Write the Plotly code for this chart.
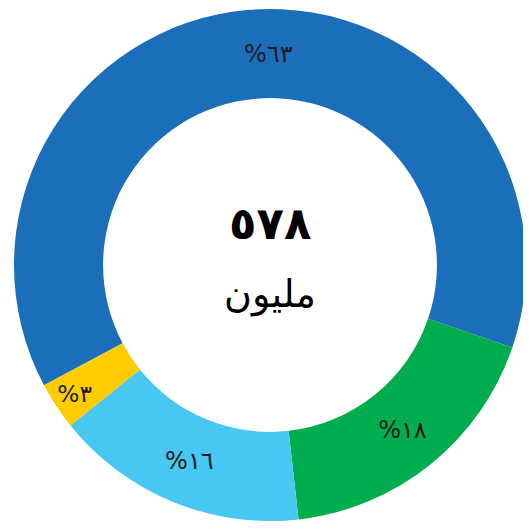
import plotly.graph_objects as go

labels = ["A", "B", "C", "D"]
values = [63, 18, 16, 3]
text_labels = ["\u00a0\u00a0\u00a0\u00a0%٦٣", "%١٨", "%١٦", "%٣"]
colors = ["#1b6fba", "#00ad4e", "#47c7f2", "#ffcc00"]
center_value = "٥٧٨"
center_unit = "ملیون"

fig = go.Figure(go.Pie(
    labels=labels,
    values=values,
    text=text_labels,
    textinfo="text",
    textposition="inside",
    insidetextorientation="horizontal",
    textfont=dict(size=24, color="#1a1a1a", family="DejaVu Sans"),
    hole=0.652,
    sort=False,
    direction="clockwise",
    rotation=242,
    marker=dict(colors=colors, line=dict(width=0)),
    showlegend=False,
))

fig.add_annotation(text="<b>" + center_value + "</b>", x=0.5, y=0.582, xref="paper", yref="paper",
                   showarrow=False, font=dict(size=45, color="#000000", family="DejaVu Sans"))
fig.add_annotation(text=center_unit, x=0.5, y=0.443, xref="paper", yref="paper",
                   showarrow=False, font=dict(size=38, color="#000000", family="DejaVu Sans"))

fig.update_layout(
    width=523, height=513,
    margin=dict(l=6, r=5, t=1, b=0),
    paper_bgcolor="white",
    plot_bgcolor="white",
)

fig.write_html("out.html")
